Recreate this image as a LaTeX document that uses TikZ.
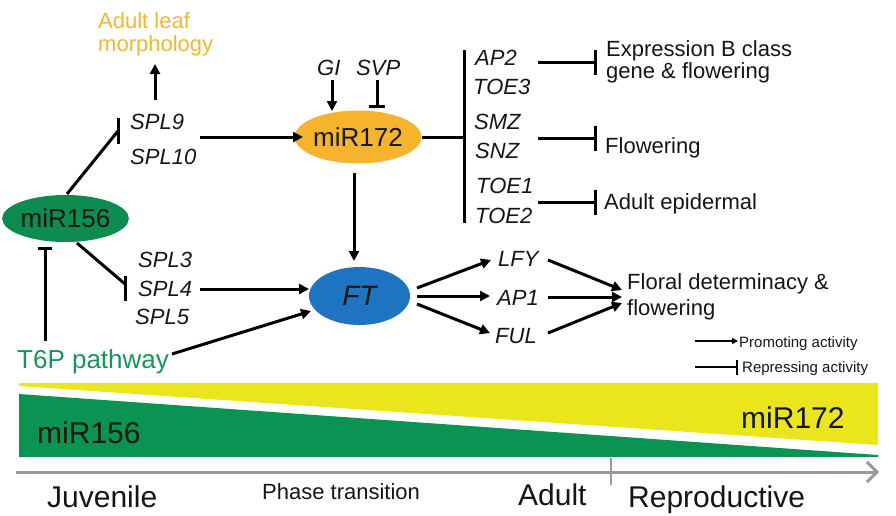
\documentclass[tikz,border=0pt]{standalone}
\usepackage{fontspec}
\setmainfont{Liberation Sans}
\usetikzlibrary{arrows.meta,shapes.geometric}
\definecolor{txt}{HTML}{151515}
\definecolor{orangetxt}{HTML}{F0B72F}
\definecolor{gell}{HTML}{0E8C4F}
\definecolor{gtxt}{HTML}{17955C}
\definecolor{oell}{HTML}{F5B42C}
\definecolor{bell}{HTML}{1E74C0}
\definecolor{gband}{HTML}{0A9352}
\definecolor{yband}{HTML}{EBE51C}
\definecolor{axisgray}{HTML}{9A9A9A}
\begin{document}
\begin{tikzpicture}[x=1pt,y=-1pt,
  lbl/.style={inner sep=0pt, anchor=base west, text=txt, font=\fontsize{22}{26}\selectfont},
  gene/.style={lbl, font=\fontsize{22}{26}\selectfont\itshape},
  small/.style={lbl, font=\fontsize{15}{18}\selectfont},
  big/.style={lbl, font=\fontsize{30}{34}\selectfont},
  ell/.style={ellipse, inner sep=0pt, text=txt, font=\fontsize{26}{30}\selectfont},
  act/.style={line width=3pt, draw=black, -{Triangle[length=10pt,width=10pt]}},
  rep/.style={line width=3pt, draw=black, -{Bar[width=#1]}},
  rep/.default=25pt,
  plain/.style={line width=3pt, draw=black},
  legact/.style={line width=2pt, draw=black, -{Triangle[length=6pt,width=6pt]}},
  legrep/.style={line width=2pt, draw=black, -{Bar[width=15pt]}}
]
\useasboundingbox (0,0) rectangle (896,515);

% ---------- bottom bands ----------
\fill[yband] (19,383) -- (878,383) -- (878,445) -- (19,386) -- cycle;
\fill[gband] (19,394) -- (878,455) -- (878,457) -- (19,457) -- cycle;
\draw[axisgray, line width=3pt, -{Straight Barb[length=10pt,width=20pt,line width=3pt]}] (16,472) -- (879,472);
\draw[axisgray, line width=2.4pt] (611,458) -- (611,485);
\node[big] (b156) at (37,443) {miR156};
\node[big] (b172) at (741,428) {miR172};
\node[big] (juv) at (47,507) {Juvenile};
\node[lbl] (phase) at (262,499) {Phase transition};
\node[big] (adult) at (518,505) {Adult};
\node[big] (repro) at (628,507) {Reproductive};

% ---------- ellipses ----------
\node[ell, fill=gell, minimum width=105pt, minimum height=47pt] (m156) at (65.5,218.5) {miR156};
\node[ell, fill=oell, minimum width=112pt, minimum height=53pt] (m172) at (358,137) {miR172};
\node[ell, fill=bell, minimum width=101pt, minimum height=58pt, font=\fontsize{28}{32}\selectfont\itshape] (ft) at (359.5,296) {FT};

% ---------- text labels ----------
\node[lbl, text=orangetxt] (leaf1) at (98,28) {Adult leaf};
\node[lbl, text=orangetxt] (leaf2) at (98,51) {morphology};
\node[gene] (spl9) at (130,129) {SPL9};
\node[gene] (spl10) at (130,164) {SPL10};
\node[gene] (gi) at (317,75) {GI};
\node[gene] (svp) at (356,75) {SVP};
\node[gene] (ap2) at (475,65) {AP2};
\node[gene] (toe3) at (473,94) {TOE3};
\node[gene] (smz) at (474,129) {SMZ};
\node[gene] (snz) at (475,158) {SNZ};
\node[gene] (toe1) at (476,193) {TOE1};
\node[gene] (toe2) at (475,223) {TOE2};
\node[lbl] (expr1) at (606,56) {Expression B class};
\node[lbl] (expr2) at (606,78) {gene \& flowering};
\node[lbl] (flow) at (605,153) {Flowering};
\node[lbl] (epid) at (604,209) {Adult epidermal};
\node[gene] (spl3) at (138,267) {SPL3};
\node[gene] (spl4) at (138,296) {SPL4};
\node[gene] (spl5) at (135,324) {SPL5};
\node[lbl, text=gtxt, font=\fontsize{26}{30}\selectfont] (t6p) at (17,368) {T6P pathway};
\node[gene] (lfy) at (498,266) {LFY};
\node[gene] (ap1) at (497,305) {AP1};
\node[gene] (ful) at (495,343) {FUL};
\node[lbl] (floral1) at (627,289) {Floral determinacy \&};
\node[lbl] (floral2) at (627,315) {flowering};
\node[small] (prom) at (739,347) {Promoting activity};
\node[small] (repr) at (742,372) {Repressing activity};

% ---------- connector end points ----------
\coordinate (leafIn) at (155,64);
\coordinate (spl9Up) at (155,100);
\coordinate (m156ne) at (67,194);
\coordinate (spl9Bar) at (118,131);
\coordinate (spl10Out) at (200,137);
\coordinate (m172In) at (303,137);
\coordinate (giOut) at (332,80);
\coordinate (m172Gi) at (332,111);
\coordinate (svpOut) at (377,80);
\coordinate (m172Svp) at (377,108);
\coordinate (hub) at (464,137);
\coordinate (hubTop) at (464,50);
\coordinate (hubBot) at (464,223);
\coordinate (r1) at (538,62);
\coordinate (r1e) at (597,62);
\coordinate (r2) at (538,138);
\coordinate (r2e) at (597,138);
\coordinate (r3) at (538,202);
\coordinate (r3e) at (597,202);
\coordinate (m172Down) at (354,173);
\coordinate (ftTop) at (354,261);
\coordinate (m156se) at (77,243);
\coordinate (splBar) at (125,284);
\coordinate (spl4Out) at (200,289);
\coordinate (ftW) at (309,289);
\coordinate (t6pUp) at (45,341);
\coordinate (m156S) at (45,247);
\coordinate (t6pOut) at (172,354);
\coordinate (ftSW) at (311,311);
\coordinate (ftE1) at (417,288);
\coordinate (ftE2) at (417,296);
\coordinate (ftE3) at (417,304);
\coordinate (lfyIn) at (491,260);
\coordinate (ap1In) at (490,296);
\coordinate (fulIn) at (490,333);
\coordinate (lfyOut) at (548,260);
\coordinate (ap1Out) at (548,297);
\coordinate (fulOut) at (548,333);
\coordinate (flIn1) at (622,290);
\coordinate (flIn2) at (622,297);
\coordinate (flIn3) at (622,303);
\coordinate (legA) at (695,341);
\coordinate (legAe) at (738,341);
\coordinate (legR) at (695,367);
\coordinate (legRe) at (738,367);

% ---------- connectors ----------
\draw[act] (spl9Up) -- (leafIn);
\draw[plain] (m156ne) -- (spl9Bar);
\draw[line width=3pt] (118,118) -- (118,144);
\draw[act] (spl10Out) -- (m172In);
\draw[act] (giOut) -- (m172Gi);
\draw[rep=16pt] (svpOut) -- (m172Svp);
\draw[plain] (m172.east) -- (hub);
\draw[plain] (hubTop) -- (hubBot);
\draw[rep] (r1) -- (r1e);
\draw[rep] (r2) -- (r2e);
\draw[rep] (r3) -- (r3e);
\draw[act] (m172Down) -- (ftTop);
\draw[plain] (m156se) -- (splBar);
\draw[line width=3pt] (125,276) -- (125,301);
\draw[act] (spl4Out) -- (ftW);
\draw[rep=14pt] (t6pUp) -- (m156S);
\draw[act] (t6pOut) -- (ftSW);
\draw[act] (ftE1) -- (lfyIn);
\draw[act] (ftE2) -- (ap1In);
\draw[act] (ftE3) -- (fulIn);
\draw[act] (lfyOut) -- (flIn1);
\draw[act] (ap1Out) -- (flIn2);
\draw[act] (fulOut) -- (flIn3);
\draw[legact] (legA) -- (legAe);
\draw[legrep] (legR) -- (legRe);
\end{tikzpicture}
\end{document}
